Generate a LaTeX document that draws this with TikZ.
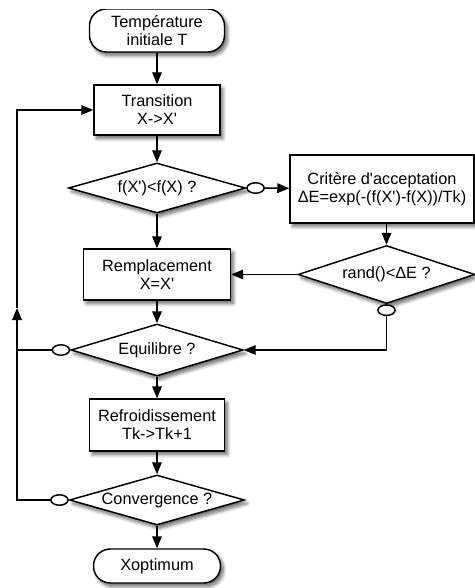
\documentclass[tikz,border=0pt]{standalone}
\usepackage{fontspec}
\setmainfont{Liberation Sans}[Ligatures=TeXOff]
\usetikzlibrary{arrows.meta,shapes.geometric,shadows.blur}

\begin{document}
\begin{tikzpicture}[
        % --- Node styles ---
        dropshade/.style={
            blur shadow={shadow xshift=2pt, shadow yshift=-2.5pt,
            shadow blur steps=8, shadow blur radius=2.5pt, shadow opacity=60}
        },
        box/.style={
            draw, fill=white, line width=1.05pt, align=center,
            font=\fontsize{11.6}{12.8}\selectfont, inner sep=2pt, dropshade
        },
        term/.style={box, rounded corners=0.42cm},
        test/.style={box, diamond, aspect=3.5, inner sep=0pt},
        knob/.style={
            draw, fill=white, ellipse, line width=1.05pt,
            minimum width=0.43cm, minimum height=0.26cm, inner sep=0pt
        },
        % --- Connector styles ---
        wire/.style={line width=1.05pt},
        arr/.style={wire, -{Triangle[length=0.3cm, width=0.24cm]}},
    ]

    \useasboundingbox (0,0) rectangle (11.875,-14.7);

    % ===== Main column (x = 3.925) =====
    \begin{scope}
        \clip (0,-0.25) rectangle (11.875,-14.7);
        \node[term, minimum width=3.375cm, minimum height=1.075cm] (start) at (3.925,-0.7625) {Température\\initiale T};
    \end{scope}
    \node[box, minimum width=3.15cm, minimum height=1.25cm]    (trans) at (3.925,-2.75)   {Transition\\X->X'};
    \node[test, minimum width=4.425cm, minimum height=1.25cm]  (gain)  at (3.925,-4.7)    {f(X')<f(X) ?};
    \node[box, minimum width=3.675cm, minimum height=1.275cm]  (rempl) at (3.925,-6.8625) {Remplacement\\X=X'};
    \node[test, minimum width=4.3cm, minimum height=1.3cm]     (equil) at (3.925,-8.75)   {Equilibre ?};
    \node[box, minimum width=3.375cm, minimum height=1.3cm]    (refr)  at (3.925,-10.625) {Refroidissement\\Tk->Tk+1};
    \node[test, minimum width=4.375cm, minimum height=1.25cm]  (conv)  at (3.925,-12.5)   {Convergence ?};
    \node[term, minimum width=3.175cm, minimum height=0.85cm]  (xopt)  at (3.925,-14.15)  {Xoptimum};

    % ===== Acceptance column =====
    \node[box, minimum width=4.6cm, minimum height=1.7cm]      (accept) at (9.55,-4.725)   {Critère d'acceptation\\ΔE=exp(-(f(X')-f(X))/Tk)};
    \node[test, minimum width=4.425cm, minimum height=1.45cm]  (rand)   at (9.6625,-6.8625) {rand()<ΔE ?};

    % ===== "No" outlets =====
    \node[knob, anchor=west]  (gainno)  at (gain.east)  {};
    \node[knob, anchor=north] (randno)  at (rand.south) {};
    \node[knob, anchor=east]  (equilno) at (equil.west) {};
    \node[knob, anchor=east]  (convno)  at (conv.west)  {};

    % return line (x = 0.425)
    \coordinate (rise) at (0.425,-7.7);

    % ===== Connectors =====
    \draw[arr] (start) -- (trans);
    \draw[arr] (trans) -- (gain);
    \draw[arr] (gain) -- (rempl);
    \draw[arr] (rempl) -- (equil);
    \draw[arr] (equil) -- (refr);
    \draw[arr] (refr) -- (conv);
    \draw[arr] (conv) -- (xopt);

    \draw[arr] (gainno) -- (accept);
    \draw[arr] (rand.north |- accept.south) -- (rand.north);
    \draw[arr] (rand.west) -- (rempl.east);
    \draw[arr] (randno.south) |- (equil.east);

    \draw[arr] (convno.west) -| (rise);
    \draw[arr] (rise) |- (trans.west);
    \draw[wire] (equilno.west) -- (equilno.west -| rise);

\end{tikzpicture}
\end{document}
